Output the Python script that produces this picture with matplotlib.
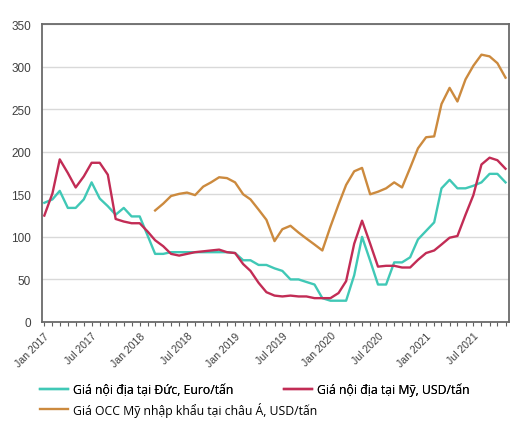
#!/usr/bin/env python3
"""
OCC / recovered paper prices, Jan 2017 - Nov 2021.

Writes:
    out.png
"""

import numpy as np
import pandas as pd
import matplotlib
matplotlib.use("Agg")
import matplotlib.pyplot as plt
import matplotlib.dates as mdates


MONTHS = pd.date_range("2017-01-01", "2021-11-01", freq="MS")

# Giá nội địa tại Đức, Euro/tấn
germany = [
    140, 144, 154, 134, 134, 144, 164, 145, 136, 126, 134, 124,
    124, 101, 80, 80, 82, 82, 82, 82, 82, 82, 82, 82,
    81, 72.5, 72.5, 67, 67, 63, 60, 50, 50, 47, 44, 28,
    25, 25, 25, 55, 100, 72, 44, 44, 70, 70, 76, 97,
    107, 117, 157, 167, 157, 157, 160, 164, 174, 174, 164,
]

# Giá nội địa tại Mỹ, USD/tấn
usa = [
    125, 151, 191, 175, 158, 171, 187, 187, 173, 121, 118, 116,
    116, 106, 96, 89, 80, 78, 80, 82, 83, 84, 85, 82,
    81, 68, 60, 46, 35, 31, 30, 31, 30, 30, 28, 28,
    28, 34, 48, 92, 119, 92, 65, 66, 66, 64, 64, 73,
    81, 84, 91, 99, 101, 126, 149, 185, 193, 190, 180,
]

# Giá OCC Mỹ nhập khẩu tại châu Á, USD/tấn (series starts Mar 2018)
asia_occ = [np.nan] * 14 + [
    131, 139, 148, 150.5, 152, 149, 159, 164, 170, 169,
    164, 150, 144, 132, 120, 95, 109, 113, 105, 98, 91, 84,
    112, 138, 161, 177, 181, 150, 153, 157, 164, 158, 181, 204,
    217, 218, 256, 275, 259, 285, 301, 314, 312, 304, 287,
]

LABELS = [
    "Giá nội địa tại Đức, Euro/tấn",
    "Giá nội địa tại Mỹ, USD/tấn",
    "Giá OCC Mỹ nhập khẩu tại châu Á, USD/tấn",
]
COLORS = ["#40c8b6", "#c22c55", "#cc8a3e"]

LEGEND_KW = dict(
    frameon=False,
    prop={"family": ["Open Sans", "DejaVu Sans"], "size": 8.8},
    handlelength=2.3, handletextpad=0.35,
    borderaxespad=0, borderpad=0,
)


def main() -> None:
    plt.rcParams["font.family"] = ["Liberation Sans", "DejaVu Sans"]

    fig = plt.figure(figsize=(5.3, 4.35), dpi=100)
    ax = fig.add_axes([0.0792, 0.2575, 0.881, 0.685])

    series = [germany, usa, asia_occ]
    handles = []
    for values, label, color in zip(series, LABELS, COLORS):
        (line,) = ax.plot(MONTHS, values, color=color, lw=1.7, label=label)
        handles.append(line)

    ax.set_ylim(0, 350)
    ax.set_yticks(np.arange(0, 351, 50))
    ax.set_xlim(MONTHS[0] - pd.Timedelta(days=9), MONTHS[-1] + pd.Timedelta(days=13))

    ax.set_xticks(MONTHS[::6])
    ax.set_xticklabels([d.strftime("%b %Y") for d in MONTHS[::6]],
                       rotation=45, ha="right", rotation_mode="anchor",
                       fontsize=7.6, color="#404040")
    ax.xaxis.set_minor_locator(mdates.MonthLocator())
    ax.tick_params(axis="x", which="both", length=3, width=0.8, color="#606060", pad=3)
    ax.tick_params(axis="y", length=0, pad=8, labelsize=8.5, labelcolor="#404040")

    ax.grid(axis="y", color="#d9d9d9", lw=1)
    ax.set_axisbelow(True)
    for spine in ax.spines.values():
        spine.set_color("#6a6a6a")
        spine.set_linewidth(1.3)

    # row 1: Germany + US, row 2: Asia import
    top = fig.legend(handles[:2], LABELS[:2], loc="center left",
                     bbox_to_anchor=(0.076, 0.103), ncol=2,
                     columnspacing=4.2, **LEGEND_KW)
    fig.add_artist(top)
    fig.legend(handles[2:], LABELS[2:], loc="center left",
               bbox_to_anchor=(0.076, 0.057), **LEGEND_KW)

    fig.savefig("out.png", dpi=100)
    plt.close(fig)


if __name__ == "__main__":
    main()
